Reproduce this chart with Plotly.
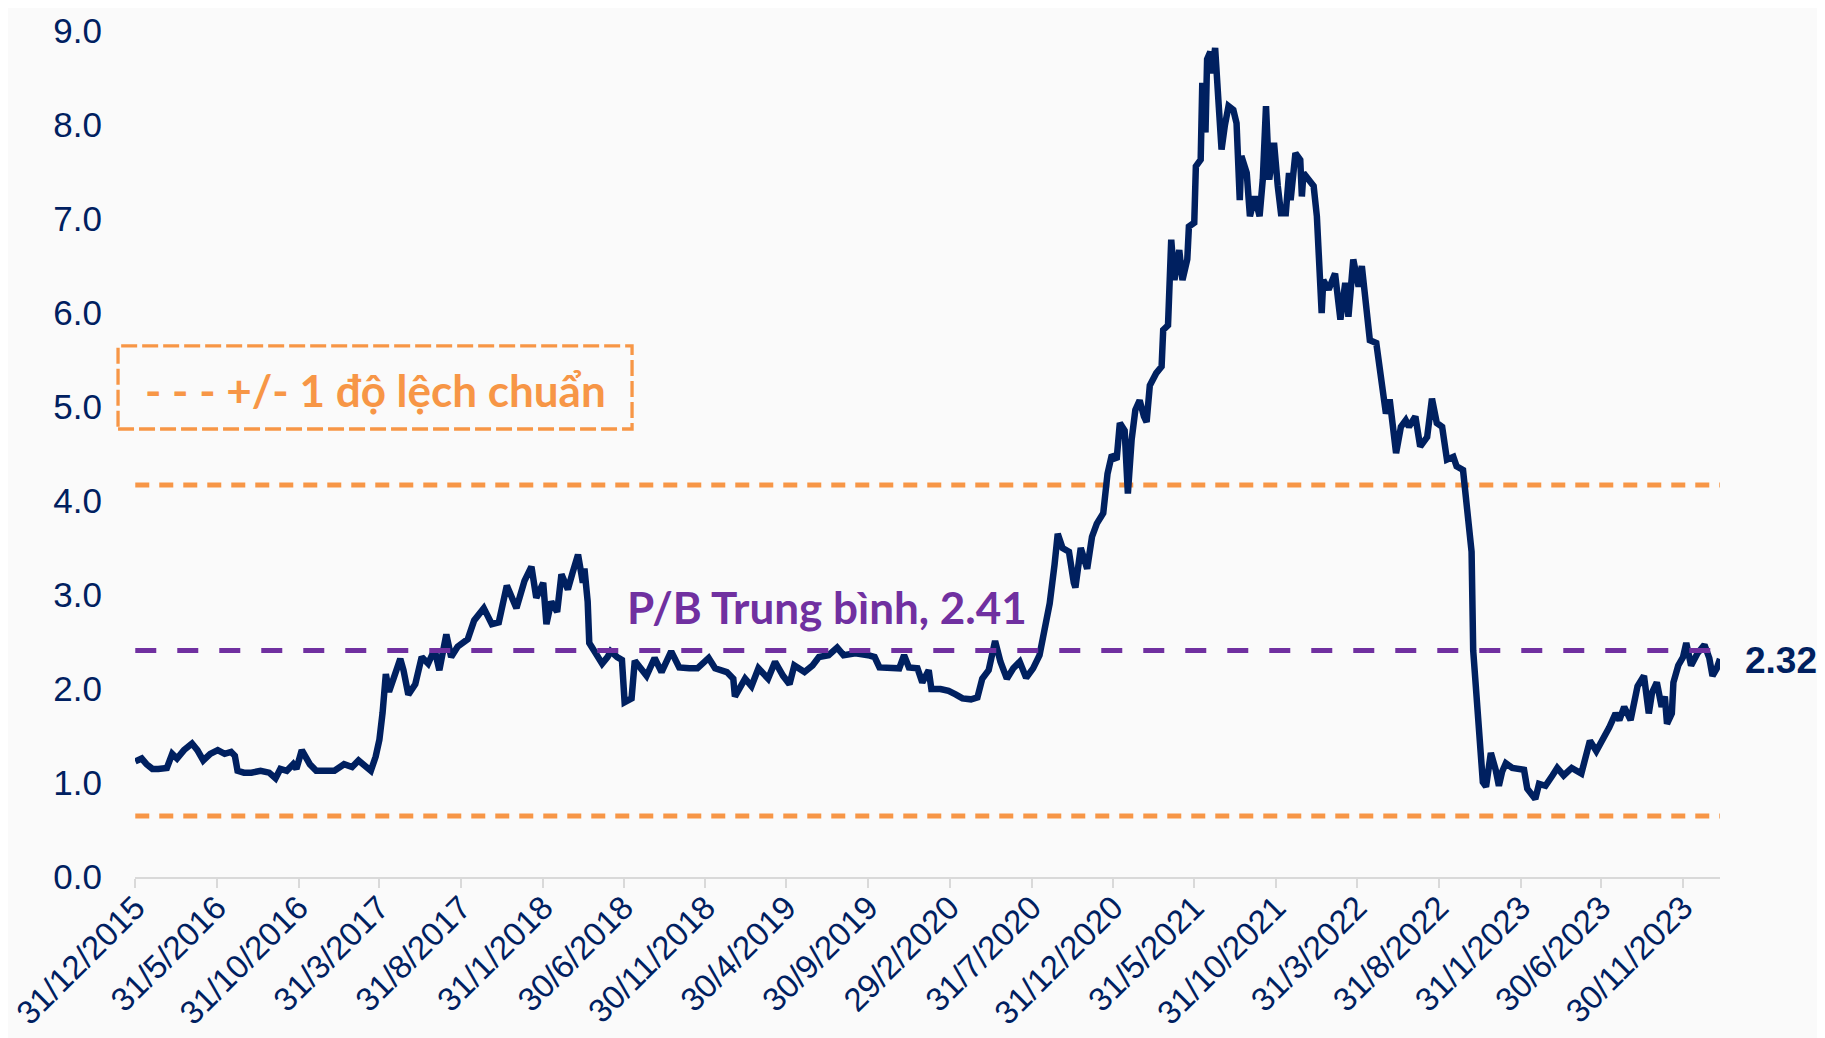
import plotly.graph_objects as go

# ---------------- data ----------------
dates = [
    "2015-12-31", "2016-01-12", "2016-01-21", "2016-02-01", "2016-02-12", "2016-02-28",
    "2016-03-09", "2016-03-18", "2016-03-31", "2016-04-15", "2016-04-25", "2016-05-06",
    "2016-05-19", "2016-06-02", "2016-06-15", "2016-06-27", "2016-07-04", "2016-07-09",
    "2016-07-21", "2016-08-04", "2016-08-21", "2016-09-06", "2016-09-18", "2016-09-27",
    "2016-10-09", "2016-10-21", "2016-10-27", "2016-11-06", "2016-11-21", "2016-12-03",
    "2016-12-18", "2017-01-06", "2017-01-24", "2017-02-08", "2017-02-20", "2017-03-03",
    "2017-03-15", "2017-03-24", "2017-03-31", "2017-04-06", "2017-04-12", "2017-04-18",
    "2017-04-24", "2017-05-09", "2017-05-15", "2017-05-24", "2017-06-06", "2017-06-18",
    "2017-06-30", "2017-07-12", "2017-07-21", "2017-08-03", "2017-08-12", "2017-08-24",
    "2017-09-12", "2017-09-24", "2017-10-12", "2017-10-27", "2017-11-09", "2017-11-24",
    "2017-12-12", "2017-12-27", "2018-01-09", "2018-01-18", "2018-01-31", "2018-02-06",
    "2018-02-15", "2018-02-26", "2018-03-06", "2018-03-18", "2018-03-27", "2018-04-06",
    "2018-04-15", "2018-04-18", "2018-04-24", "2018-04-27", "2018-05-09", "2018-05-21",
    "2018-05-31", "2018-06-06", "2018-06-18", "2018-06-27", "2018-07-02", "2018-07-15",
    "2018-07-21", "2018-08-12", "2018-08-27", "2018-09-09", "2018-09-27", "2018-10-12",
    "2018-10-31", "2018-11-15", "2018-12-06", "2018-12-18", "2019-01-09", "2019-01-21",
    "2019-01-24", "2019-02-12", "2019-02-24", "2019-03-09", "2019-03-27", "2019-04-09",
    "2019-04-24", "2019-05-06", "2019-05-15", "2019-06-03", "2019-06-18", "2019-06-30",
    "2019-07-18", "2019-08-03", "2019-08-15", "2019-09-06", "2019-09-30", "2019-10-12",
    "2019-10-21", "2019-11-12", "2019-11-27", "2019-12-06", "2019-12-15", "2019-12-31",
    "2020-01-09", "2020-01-21", "2020-01-26", "2020-02-12", "2020-02-27", "2020-03-12",
    "2020-03-24", "2020-04-09", "2020-04-21", "2020-04-30", "2020-05-12", "2020-05-24",
    "2020-06-03", "2020-06-15", "2020-06-27", "2020-07-09", "2020-07-21", "2020-08-03",
    "2020-08-15", "2020-08-24", "2020-09-03", "2020-09-12", "2020-09-18", "2020-09-27",
    "2020-10-09", "2020-10-18", "2020-10-21", "2020-10-31", "2020-11-12", "2020-11-21",
    "2020-11-30", "2020-12-12", "2020-12-20", "2020-12-28", "2021-01-06", "2021-01-12",
    "2021-01-21", "2021-01-27", "2021-02-03", "2021-02-10", "2021-02-18", "2021-02-26",
    "2021-03-03", "2021-03-09", "2021-03-21", "2021-03-31", "2021-04-03", "2021-04-12",
    "2021-04-18", "2021-04-24", "2021-05-03", "2021-05-09", "2021-05-18", "2021-05-21",
    "2021-05-31", "2021-06-03", "2021-06-12", "2021-06-15", "2021-06-21", "2021-06-24",
    "2021-06-30", "2021-07-03", "2021-07-09", "2021-07-15", "2021-07-18", "2021-07-21",
    "2021-07-27", "2021-08-03", "2021-08-12", "2021-08-18", "2021-08-24", "2021-08-27",
    "2021-09-06", "2021-09-12", "2021-09-21", "2021-09-30", "2021-10-06", "2021-10-12",
    "2021-10-18", "2021-10-27", "2021-11-03", "2021-11-09", "2021-11-18", "2021-11-24",
    "2021-11-27", "2021-12-06", "2021-12-15", "2021-12-18", "2021-12-21", "2021-12-31",
    "2022-01-09", "2022-01-15", "2022-01-21", "2022-01-24", "2022-01-27", "2022-02-06",
    "2022-02-18", "2022-02-28", "2022-03-09", "2022-03-15", "2022-03-24", "2022-04-03",
    "2022-04-09", "2022-04-18", "2022-04-24", "2022-05-06", "2022-05-15", "2022-05-24",
    "2022-05-31", "2022-06-12", "2022-06-21", "2022-06-30", "2022-07-06", "2022-07-18",
    "2022-07-27", "2022-08-09", "2022-08-18", "2022-08-27", "2022-09-06", "2022-09-15",
    "2022-09-27", "2022-10-03", "2022-10-15", "2022-10-21", "2022-10-31", "2022-11-03",
    "2022-11-10", "2022-11-15", "2022-11-21", "2022-11-27", "2022-12-06", "2022-12-15",
    "2022-12-21", "2022-12-27", "2023-01-03", "2023-01-15", "2023-02-06", "2023-02-12",
    "2023-02-21", "2023-02-27", "2023-03-06", "2023-03-18", "2023-03-31", "2023-04-09",
    "2023-04-21", "2023-05-06", "2023-05-24", "2023-05-31", "2023-06-09", "2023-06-21",
    "2023-07-06", "2023-07-15", "2023-07-27", "2023-08-03", "2023-08-12", "2023-08-24",
    "2023-09-06", "2023-09-18", "2023-09-27", "2023-10-03", "2023-10-12", "2023-10-21",
    "2023-10-27", "2023-10-31", "2023-11-09", "2023-11-12", "2023-11-21", "2023-11-30",
    "2023-12-06", "2023-12-15", "2023-12-27", "2024-01-09", "2024-01-18", "2024-01-24",
    "2024-02-01", "2024-02-07",
]

pb = [
    1.23, 1.26, 1.20, 1.15, 1.15, 1.16,
    1.31, 1.26, 1.35, 1.42, 1.35, 1.24,
    1.31, 1.35, 1.31, 1.33, 1.29, 1.13,
    1.11, 1.11, 1.13, 1.11, 1.05, 1.15,
    1.13, 1.20, 1.15, 1.35, 1.20, 1.13,
    1.13, 1.13, 1.20, 1.17, 1.24, 1.18,
    1.13, 1.28, 1.46, 1.75, 2.16, 1.97,
    2.08, 2.32, 2.20, 1.94, 2.05, 2.34,
    2.27, 2.42, 2.20, 2.58, 2.34, 2.45,
    2.53, 2.73, 2.86, 2.69, 2.71, 3.10,
    2.86, 3.15, 3.30, 2.97, 3.13, 2.69,
    2.93, 2.82, 3.22, 3.06, 3.24, 3.43,
    3.13, 3.28, 2.93, 2.49, 2.38, 2.27,
    2.34, 2.40, 2.34, 2.31, 1.86, 1.90,
    2.30, 2.14, 2.33, 2.18, 2.40, 2.23,
    2.22, 2.22, 2.33, 2.22, 2.18, 2.11,
    1.92, 2.11, 2.03, 2.22, 2.11, 2.29,
    2.14, 2.05, 2.25, 2.18, 2.25, 2.34,
    2.36, 2.44, 2.36, 2.38, 2.36, 2.34,
    2.23, 2.22, 2.22, 2.36, 2.23, 2.22,
    2.07, 2.20, 2.00, 2.00, 1.98, 1.94,
    1.90, 1.89, 1.91, 2.11, 2.20, 2.51,
    2.29, 2.11, 2.22, 2.29, 2.12, 2.22,
    2.36, 2.62, 2.91, 3.32, 3.65, 3.50,
    3.46, 3.13, 3.08, 3.50, 3.28, 3.62,
    3.76, 3.87, 4.29, 4.49, 4.44, 4.83,
    4.75, 4.08, 4.65, 4.97, 5.07, 4.90,
    4.84, 5.23, 5.36, 5.43, 5.82, 5.87,
    6.78, 6.35, 6.67, 6.35, 6.57, 6.92,
    6.96, 7.56, 7.63, 8.45, 7.92, 8.70,
    8.78, 8.55, 8.82, 8.27, 7.99, 7.74,
    7.99, 8.20, 8.16, 8.02, 7.20, 7.67,
    7.49, 7.03, 7.24, 7.03, 7.42, 8.20,
    7.42, 7.81, 7.35, 7.06, 7.06, 7.49,
    7.20, 7.70, 7.63, 7.24, 7.49, 7.42,
    7.35, 7.03, 6.21, 6.00, 6.35, 6.25,
    6.42, 5.93, 6.32, 5.96, 6.57, 6.28,
    6.50, 6.07, 5.71, 5.68, 5.25, 4.93,
    5.08, 4.51, 4.79, 4.86, 4.79, 4.90,
    4.58, 4.68, 5.09, 4.83, 4.79, 4.44,
    4.47, 4.37, 4.33, 4.01, 3.46, 2.41,
    1.81, 1.49, 1.01, 0.96, 1.32, 1.14,
    0.97, 1.12, 1.21, 1.16, 1.14, 0.94,
    0.86, 0.83, 0.99, 0.97, 1.08, 1.16,
    1.08, 1.16, 1.10, 1.23, 1.45, 1.34,
    1.49, 1.59, 1.74, 1.67, 1.81, 1.67,
    2.03, 2.14, 1.74, 1.96, 2.07, 1.81,
    1.92, 1.63, 1.74, 2.07, 2.25, 2.34,
    2.49, 2.25, 2.38, 2.47, 2.33, 2.14,
    2.22, 2.32,
]

pb_mean = 2.41
pb_upper = 4.17   # mean + 1 std
pb_lower = 0.65   # mean - 1 std
last_label = "2.32"

tick_dates = [
    "2015-12-31", "2016-05-31", "2016-10-31", "2017-03-31", "2017-08-31",
    "2018-01-31", "2018-06-30", "2018-11-30", "2019-04-30", "2019-09-30",
    "2020-02-29", "2020-07-31", "2020-12-31", "2021-05-31", "2021-10-31",
    "2022-03-31", "2022-08-31", "2023-01-31", "2023-06-30", "2023-11-30",
]
tick_labels = [
    "31/12/2015", "31/5/2016", "31/10/2016", "31/3/2017", "31/8/2017",
    "31/1/2018", "30/6/2018", "30/11/2018", "30/4/2019", "30/9/2019",
    "29/2/2020", "31/7/2020", "31/12/2020", "31/5/2021", "31/10/2021",
    "31/3/2022", "31/8/2022", "31/1/2023", "30/6/2023", "30/11/2023",
]
y_ticks = [0, 1, 2, 3, 4, 5, 6, 7, 8, 9]
y_tick_labels = ["0.0", "1.0", "2.0", "3.0", "4.0", "5.0", "6.0", "7.0", "8.0", "9.0"]

mean_label = "P/B Trung bình, 2.41"
std_label = "- - - +/- 1 độ lệch chuẩn"

# ---------------- style ----------------
NAVY = "#002060"
PURPLE = "#7030A0"
ORANGE = "#F79646"
BG = "#FAFAFA"
x_start, x_end = dates[0], dates[-1]
x_range = ["2015-12-30 12:00", x_end]

fig = go.Figure()

fig.add_trace(go.Scatter(
    x=dates, y=pb, mode="lines",
    line=dict(color=NAVY, width=6.5),
    showlegend=False, hoverinfo="x+y",
))

shapes = [
    dict(type="line", xref="x", yref="y", x0=x_start, x1=x_end, y0=pb_upper, y1=pb_upper,
         line=dict(color=ORANGE, width=5, dash="14px,10px"), layer="below"),
    dict(type="line", xref="x", yref="y", x0=x_start, x1=x_end, y0=pb_lower, y1=pb_lower,
         line=dict(color=ORANGE, width=5, dash="14px,10px"), layer="below"),
    dict(type="line", xref="x", yref="y", x0=x_start, x1=x_end, y0=pb_mean, y1=pb_mean,
         line=dict(color=PURPLE, width=5, dash="21px,21px"), layer="above"),
    dict(type="rect", xref="paper", yref="y", x0=-0.0107, x1=0.3136, y0=4.766, y1=5.65,
         line=dict(color=ORANGE, width=3.3, dash="16px,5px"), fillcolor="rgba(0,0,0,0)"),
]

annotations = [
    dict(xref="paper", yref="y", x=0.309, y=2.87, text=mean_label, showarrow=False,
         xanchor="left", yanchor="middle",
         font=dict(family="Lato", size=44, color=PURPLE, weight="bold")),
    dict(xref="paper", yref="y", x=0.005, y=5.18, text=std_label, showarrow=False,
         xanchor="left", yanchor="middle",
         font=dict(family="Lato", size=44, color=ORANGE, weight="bold")),
    dict(xref="paper", yref="y", x=1.0145, y=2.30, text=last_label, showarrow=False,
         xanchor="left", yanchor="middle",
         font=dict(family="Liberation Sans", size=37, color=NAVY, weight="bold")),
]

# the page body adds an 8 px offset; the figure is shifted/sized to compensate
fig.update_layout(
    width=1817, height=1030,
    margin=dict(l=127, r=105, t=23, b=161),
    paper_bgcolor=BG, plot_bgcolor=BG,
    shapes=shapes, annotations=annotations,
    font=dict(family="Liberation Sans", size=34, color=NAVY),
    showlegend=False,
)

fig.update_xaxes(
    type="date", range=x_range, automargin=False,
    tickmode="array", tickvals=tick_dates, ticktext=tick_labels,
    tickangle=-45, ticks="outside", ticklen=9, tickwidth=2, tickcolor="#D9D9D9",
    showline=True, linecolor="#D9D9D9", linewidth=2,
    showgrid=False, zeroline=False,
    ticklabelstandoff=-13, ticklabeloverflow="allow",
    tickfont=dict(family="Liberation Sans", size=33, color=NAVY),
)
fig.update_yaxes(
    range=[0, 9], automargin=False,
    tickmode="array", tickvals=y_ticks, ticktext=y_tick_labels,
    showgrid=False, zeroline=False, showline=False, ticks="",
    ticklabelstandoff=32,
    tickfont=dict(family="Liberation Sans", size=35, color=NAVY),
)

fig.write_html("out.html")
